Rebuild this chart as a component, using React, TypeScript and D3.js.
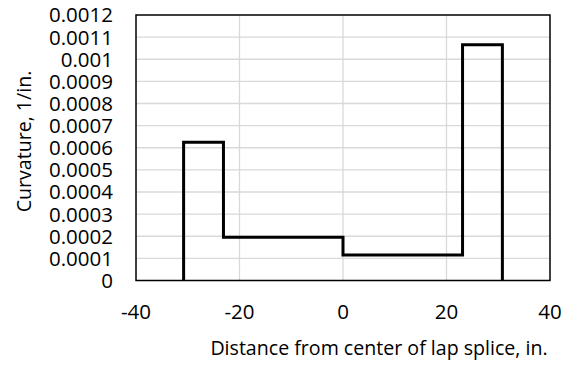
import React from 'react';
import * as d3 from 'd3';

const W = 569;
const H = 367;

// step edges (in.) and curvature level between consecutive edges (1/in.)
const edges = [-30.8, -23.1, 0, 23.1, 30.8];
const levels = [0.000625, 0.000195, 0.000115, 0.001065];

const xTicks = [-40, -20, 0, 20, 40];
const yTicks = [0, 0.0001, 0.0002, 0.0003, 0.0004, 0.0005, 0.0006, 0.0007, 0.0008, 0.0009, 0.001, 0.0011, 0.0012];
const yTickLabels = ['0', '0.0001', '0.0002', '0.0003', '0.0004', '0.0005', '0.0006', '0.0007', '0.0008', '0.0009', '0.001', '0.0011', '0.0012'];

const xTitle = 'Distance from center of lap splice, in.';
const yTitle = 'Curvature, 1/in.';

const margin = { left: 136, right: 19, top: 15, bottom: 86.5 };
const FONT = "'Open Sans', sans-serif";

const App: React.FC = () => {
  const iw = W - margin.left - margin.right;
  const ih = H - margin.top - margin.bottom;

  const x = d3.scaleLinear().domain([-40, 40]).range([0, iw]);
  const y = d3.scaleLinear().domain([0, 0.0012]).range([ih, 0]);

  // build the step outline from the edges and levels
  const pts: [number, number][] = [[edges[0], 0]];
  levels.forEach((lv, i) => {
    pts.push([edges[i], lv]);
    pts.push([edges[i + 1], lv]);
  });
  pts.push([edges[edges.length - 1], 0]);

  const line = d3
    .line<[number, number]>()
    .x((d) => x(d[0]))
    .y((d) => y(d[1]));

  return (
    <svg width={W} height={H} style={{ position: 'absolute', left: 0, top: 0, background: '#fff' }} fontFamily={FONT}>
      <g transform={`translate(${margin.left},${margin.top})`}>
        {/* gridlines */}
        {yTicks.slice(1, -1).map((t) => (
          <line key={`gy${t}`} x1={0} x2={iw} y1={y(t)} y2={y(t)} stroke='#d9d9d9' strokeWidth={1.3} />
        ))}
        {xTicks.slice(1, -1).map((t) => (
          <line key={`gx${t}`} x1={x(t)} x2={x(t)} y1={0} y2={ih} stroke='#d9d9d9' strokeWidth={1.3} />
        ))}

        {/* frame */}
        <rect x={0} y={0} width={iw} height={ih} fill='none' stroke='#000' strokeWidth={1.5} />

        {/* series */}
        <path d={line(pts) ?? ''} fill='none' stroke='#000' strokeWidth={3} strokeLinejoin='miter' />

        {/* y tick labels */}
        {yTicks.map((t, i) => (
          <text key={`ty${t}`} x={-23} y={y(t)} dy='0.36em' textAnchor='end' fontSize={20.5} fill='#000'>
            {yTickLabels[i]}
          </text>
        ))}

        {/* x tick labels */}
        {xTicks.map((t) => (
          <text key={`tx${t}`} x={x(t)} y={ih + 38} textAnchor='middle' fontSize={20.5} fill='#000'>
            {t}
          </text>
        ))}
      </g>

      <text x={379} y={355} textAnchor='middle' fontSize={19.6} fill='#000'>
        {xTitle}
      </text>
      <text transform='translate(31,141.5) rotate(-90)' textAnchor='middle' fontSize={19.6} fill='#000'>
        {yTitle}
      </text>
    </svg>
  );
};

export default App;
